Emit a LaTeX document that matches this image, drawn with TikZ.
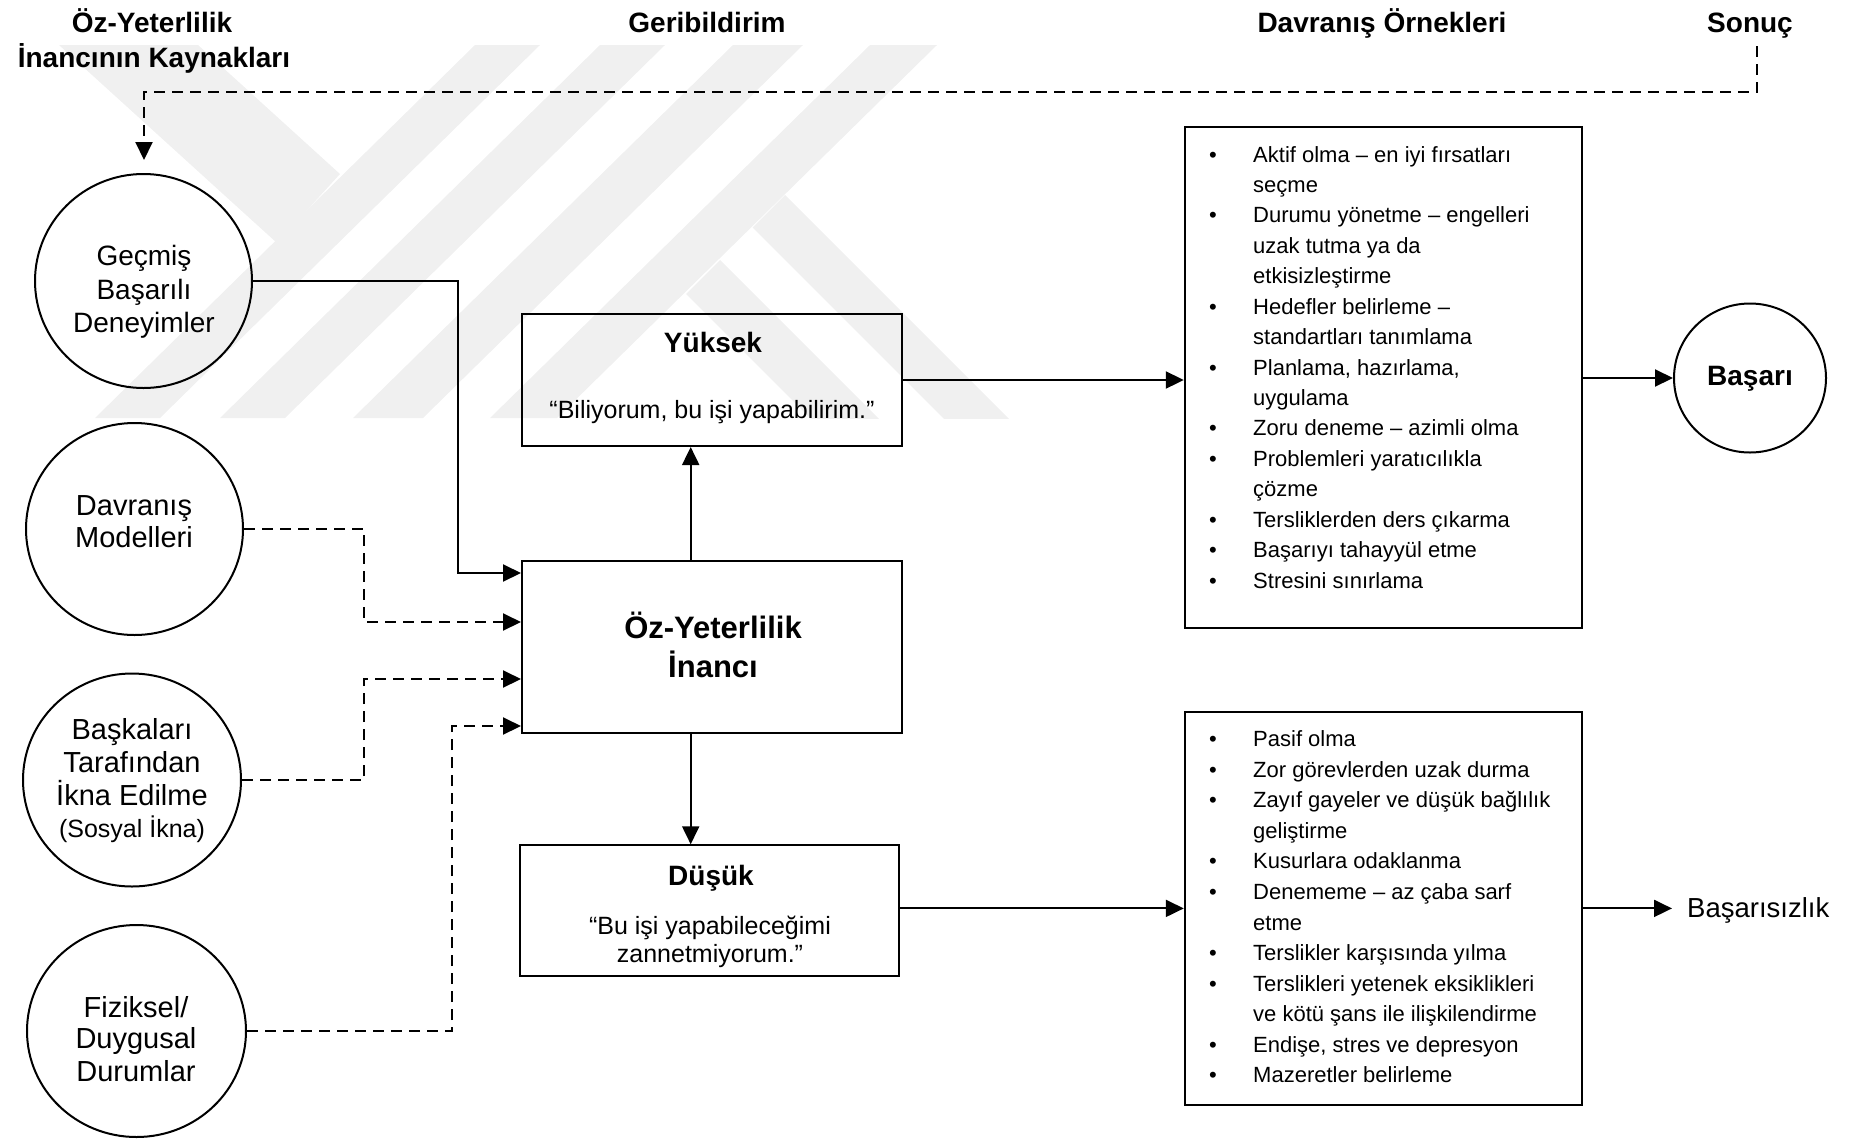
\documentclass[tikz,border=0pt]{standalone}
\usepackage{fontspec}
\setmainfont{Liberation Sans}
\usetikzlibrary{arrows.meta,shapes.geometric}
\begin{document}
\begin{tikzpicture}[x=1pt,y=-1pt,
  wm/.style={fill=black!6,draw=none},
  boxs/.style={draw,line width=2pt,inner sep=0pt},
  circ/.style={draw,ellipse,line width=2pt,inner sep=0pt},
  conn/.style={line width=2pt,-{Triangle[length=18pt,width=17pt]}},
  dconn/.style={conn,dash pattern=on 11pt off 7pt},
  ttl/.style={anchor=base,inner sep=0pt,font=\fontsize{28}{32}\selectfont\bfseries},
  ct/.style={anchor=base,inner sep=0pt,font=\fontsize{28}{32}\selectfont},
  ctb/.style={anchor=base,inner sep=0pt,font=\fontsize{29}{32}\selectfont},
  qt/.style={anchor=base,inner sep=0pt,font=\fontsize{25}{30}\selectfont},
  bt/.style={anchor=base,inner sep=0pt,font=\fontsize{28}{32}\selectfont\bfseries},
  lt/.style={anchor=base west,inner sep=0pt,font=\fontsize{22}{26}\selectfont},
  lb/.style={anchor=base,inner sep=0pt,font=\fontsize{22}{26}\selectfont},
]
\useasboundingbox (0,0) rectangle (1863,1141);

% watermark
\begin{scope}
\clip (0,45) rectangle (1100,418);
\foreach \L/\R in {475/540,600/665,733/803,870/937}
  \fill[wm] (\L,45) -- (\R,45) -- (\R-380,418) -- (\L-380,418) -- cycle;
\fill[wm] (59,45) -- (198,45) -- (340,174) -- (277,243) -- cycle;
\fill[wm] (785,195) -- (1013,423) -- (948,423) -- (752.5,227.5) -- cycle;
\fill[wm] (720,260) -- (883,423) -- (815,423) -- (686,294) -- cycle;
\end{scope}

% titles
\node[ttl] (t1a) at (152,32) {Öz-Yeterlilik};
\node[ttl] (t1b) at (154,67) {İnancının Kaynakları};
\node[ttl] (t2) at (707,32) {Geribildirim};
\node[ttl] (t3) at (1382,32) {Davranış Örnekleri};
\node[ttl] (t4) at (1750,32) {Sonuç};

% source circles
\node[circ,minimum width=217pt,minimum height=214pt] (c1) at (143.5,281) {};
\node[circ,minimum width=217pt,minimum height=212pt] (c2) at (134.5,529) {};
\node[circ,minimum width=218pt,minimum height=213pt] (c3) at (132,780) {};
\node[circ,minimum width=219pt,minimum height=212pt] (c4) at (136.5,1031) {};

\node[ct] (c1a) at (144,265) {Geçmiş};
\node[ct] (c1b) at (144,299) {Başarılı};
\node[ct] (c1c) at (144,332) {Deneyimler};
\node[ctb] (c2a) at (134,515) {Davranış};
\node[ctb] (c2b) at (134,547) {Modelleri};
\node[ctb] (c3a) at (132,739) {Başkaları};
\node[ctb] (c3b) at (132,772) {Tarafından};
\node[ctb] (c3c) at (132,805) {İkna Edilme};
\node[anchor=base,inner sep=0pt,font=\fontsize{25}{30}\selectfont] (c3d) at (132,837) {(Sosyal İkna)};
\node[ctb] (c4a) at (136,1017) {Fiziksel/};
\node[ctb] (c4b) at (136,1048) {Duygusal};
\node[ctb] (c4c) at (136,1081) {Durumlar};

% central boxes
\node[boxs,minimum width=380pt,minimum height=172pt] (oz) at (712,647) {};
\node[anchor=base,inner sep=0pt,font=\fontsize{31}{36}\selectfont\bfseries] (oza) at (713,638) {Öz-Yeterlilik};
\node[anchor=base,inner sep=0pt,font=\fontsize{31}{36}\selectfont\bfseries] (ozb) at (713,677) {İnancı};

\node[boxs,minimum width=380pt,minimum height=132pt] (yuksek) at (712,380) {};
\node[bt] (yka) at (713,352) {Yüksek};
\node[qt] (ykb) at (712,418) {“Biliyorum, bu işi yapabilirim.”};

\node[boxs,minimum width=379pt,minimum height=131pt] (dusuk) at (709.5,910.8) {};
\node[bt] (dsa) at (711,885) {Düşük};
\node[qt] (dsb) at (710,934) {“Bu işi yapabileceğimi};
\node[qt] (dsc) at (710,962) {zannetmiyorum.”};

% behaviour lists
\node[boxs,minimum width=397pt,minimum height=501pt] (list1) at (1383.3,377) {};
\node[boxs,minimum width=397pt,minimum height=393pt] (list2) at (1383.3,908.4) {};

\foreach \b/\t [count=\i] in {1/{Aktif olma – en iyi fırsatları},0/seçme,1/{Durumu yönetme – engelleri},0/{uzak tutma ya da},0/etkisizleştirme,1/{Hedefler belirleme –},0/{standartları tanımlama},1/{Planlama, hazırlama,},0/uygulama,1/{Zoru deneme – azimli olma},1/{Problemleri yaratıcılıkla},0/çözme,1/{Tersliklerden ders çıkarma},1/{Başarıyı tahayyül etme},1/{Stresini sınırlama}}{
  \node[lt] (hi\i) at (1253,{162+30.43*(\i-1)}) {\t};
  \ifnum\b=1 \node[lb] (hb\i) at (1213,{162+30.43*(\i-1)}) {•};\fi
}
\foreach \b/\t [count=\i] in {1/{Pasif olma},1/{Zor görevlerden uzak durma},1/{Zayıf gayeler ve düşük bağlılık},0/geliştirme,1/{Kusurlara odaklanma},1/{Denememe – az çaba sarf},0/etme,1/{Terslikler karşısında yılma},1/{Terslikleri yetenek eksiklikleri},0/{ve kötü şans ile ilişkilendirme},1/{Endişe, stres ve depresyon},1/{Mazeretler belirleme}}{
  \node[lt] (li\i) at (1253,{746.7+30.57*(\i-1)}) {\t};
  \ifnum\b=1 \node[lb] (lb\i) at (1213,{746.7+30.57*(\i-1)}) {•};\fi
}

% outcomes
\node[circ,minimum width=152pt,minimum height=149pt] (basari) at (1750,378) {};
\node[bt] (basarit) at (1750,385.5) {Başarı};
\node[anchor=base west,inner sep=0pt,font=\fontsize{27.5}{32}\selectfont] (fail) at (1687,917) {Başarısızlık};

% connectors
\coordinate (k1) at (458,573);
\coordinate (k2) at (364,622);
\coordinate (k3) at (364,679);
\coordinate (k4) at (452,726);
\draw[conn] (c1.east) -- (c1.east -| k1) -- (k1) -- (k1 -| oz.west);
\draw[dconn] (c2.east) -- (c2.east -| k2) -- (k2) -- (k2 -| oz.west);
\draw[dconn] (c3.east) -- (c3.east -| k3) -- (k3) -- (k3 -| oz.west);
\draw[dconn] (c4.east) -- (c4.east -| k4) -- (k4) -- (k4 -| oz.west);

\coordinate (ax) at (690.7,0);
\draw[conn] (oz.north -| ax) -- (yuksek.south -| ax);
\draw[conn] (oz.south -| ax) -- (dusuk.north -| ax);

\draw[conn] (yuksek.east) -- (yuksek.east -| list1.west);
\draw[conn] (basari.west -| list1.east) -- (basari.west);
\draw[conn] (list2.west -| dusuk.east) -- (list2.west);
\draw[conn,shorten >=15pt] (list2.east) -- (list2.east -| fail.west);

% feedback loop
\coordinate (fbs) at (1757,46);
\coordinate (fbc) at (144,91.5);
\coordinate (fbe) at (144,160);
\draw[dconn] (fbs) -- (fbs |- fbc) -- (fbc) -- (fbe);
\end{tikzpicture}
\end{document}
